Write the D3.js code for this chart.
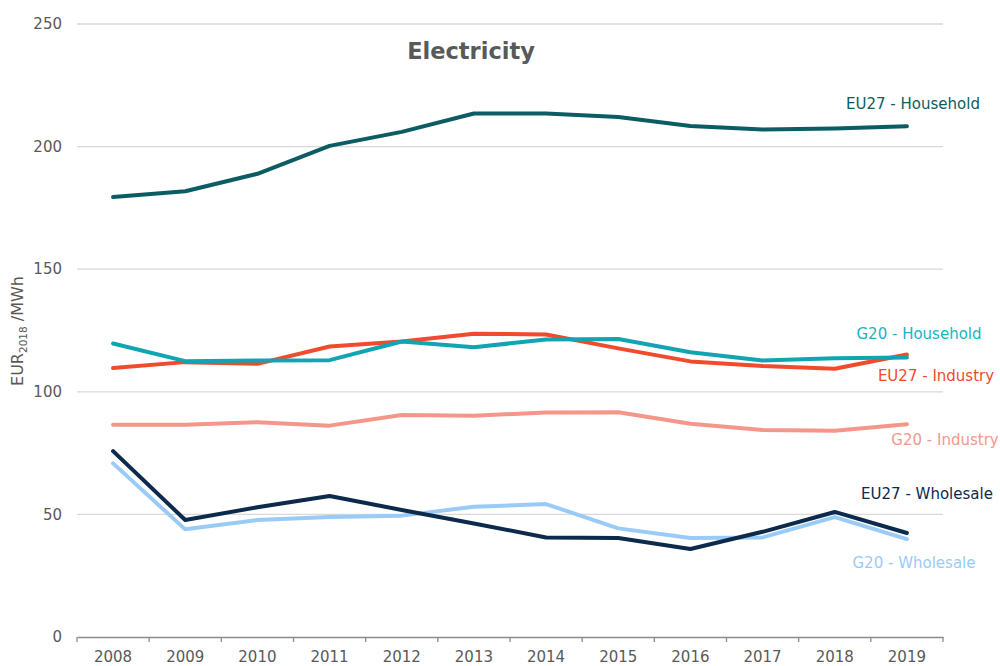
<!DOCTYPE html>
<html lang="en">
<head>
<meta charset="UTF-8">
<title>Electricity</title>
<script src="https://d3js.org/d3.v7.min.js"></script>
<style>
  body { margin: 0; background: #fff; font-family: "DejaVu Sans", Verdana, sans-serif; }
  svg { display: block; }
</style>
</head>
<body>
<svg id="chart" width="1000" height="666"></svg>
<script>
// data
const years = ["2008","2009","2010","2011","2012","2013","2014","2015","2016","2017","2018","2019"];
const yTicks = [0, 50, 100, 150, 200, 250];

const eu27Household = [179.4, 181.8, 188.9, 200.3, 206.0, 213.5, 213.5, 212.1, 208.4, 207.0, 207.4, 208.3];
const g20Household  = [119.7, 112.5, 112.8, 112.9, 120.5, 118.2, 121.3, 121.5, 116.1, 112.8, 113.7, 114.0];
const eu27Industry  = [109.7, 112.1, 111.4, 118.5, 120.5, 123.7, 123.4, 117.7, 112.4, 110.5, 109.4, 115.2];
const g20Industry   = [86.6, 86.6, 87.6, 86.2, 90.5, 90.2, 91.6, 91.7, 87.0, 84.4, 84.1, 86.8];
const eu27Wholesale = [75.8, 47.7, 52.9, 57.5, 51.8, 46.3, 40.6, 40.4, 35.9, 42.9, 51.0, 42.4];
const g20Wholesale  = [70.8, 43.9, 47.7, 48.9, 49.5, 53.1, 54.2, 44.3, 40.4, 40.6, 48.9, 39.9];

const series = [
  { name: "G20 - Wholesale",  values: g20Wholesale,  color: "#9acbf7", text: "#9acbf7", lx: 914, ly: 568 },
  { name: "EU27 - Wholesale", values: eu27Wholesale, color: "#0c2a4c", text: "#0c2a4c", lx: 927, ly: 499 },
  { name: "G20 - Industry",   values: g20Industry,   color: "#f4978a", text: "#f4978a", lx: 945, ly: 445 },
  { name: "EU27 - Industry",  values: eu27Industry,  color: "#ef4b2c", text: "#ef4b2c", lx: 936, ly: 381 },
  { name: "G20 - Household",  values: g20Household,  color: "#11a4b3", text: "#1ab3c3", lx: 919, ly: 339 },
  { name: "EU27 - Household", values: eu27Household, color: "#0b5c63", text: "#0b5c63", lx: 913, ly: 109 }
];

const svg = d3.select("#chart");
const plotLeft = 77, plotRight = 943, plotTop = 24, plotBottom = 637;

const x = d3.scaleBand().domain(years).range([plotLeft, plotRight]);
const y = d3.scaleLinear().domain([0, 250]).range([plotBottom, plotTop]);

// gridlines
svg.append("g")
  .selectAll("line")
  .data(yTicks.filter(d => d > 0))
  .enter().append("line")
  .attr("x1", plotLeft).attr("x2", plotRight)
  .attr("y1", d => y(d)).attr("y2", d => y(d))
  .attr("stroke", "#d9d9d9")
  .attr("stroke-width", 1.3);

// y tick labels
svg.append("g")
  .selectAll("text")
  .data(yTicks)
  .enter().append("text")
  .attr("x", 62)
  .attr("y", d => y(d))
  .attr("dy", "0.35em")
  .attr("text-anchor", "end")
  .attr("font-size", 15)
  .attr("fill", "#595959")
  .text(d => d);

// x axis
const xAxis = svg.append("g")
  .attr("transform", `translate(0,${plotBottom})`)
  .call(d3.axisBottom(x).tickSize(0).tickPadding(14));
xAxis.select(".domain").attr("stroke", "#8c8c8c").attr("stroke-width", 1.3);
xAxis.selectAll("text")
  .attr("font-size", 15)
  .attr("font-family", "DejaVu Sans, Verdana, sans-serif")
  .attr("fill", "#595959");

// ticks at the category boundaries
const bounds = years.map(d => x(d)).concat([plotRight]);
svg.append("g")
  .selectAll("line")
  .data(bounds)
  .enter().append("line")
  .attr("x1", d => d).attr("x2", d => d)
  .attr("y1", plotBottom).attr("y2", plotBottom + 5)
  .attr("stroke", "#8c8c8c")
  .attr("stroke-width", 1.3);

// lines
const line = d3.line()
  .x((d, i) => x(years[i]) + x.bandwidth() / 2)
  .y(d => y(d));

svg.append("g")
  .selectAll("path")
  .data(series)
  .enter().append("path")
  .attr("d", d => line(d.values))
  .attr("fill", "none")
  .attr("stroke", d => d.color)
  .attr("stroke-width", 4)
  .attr("stroke-linejoin", "round")
  .attr("stroke-linecap", "round");

// series labels
svg.append("g")
  .selectAll("text")
  .data(series)
  .enter().append("text")
  .attr("x", d => d.lx)
  .attr("y", d => d.ly)
  .attr("text-anchor", "middle")
  .attr("font-size", 15)
  .attr("fill", d => d.text)
  .text(d => d.name);

// title
svg.append("text")
  .attr("x", 471)
  .attr("y", 59)
  .attr("text-anchor", "middle")
  .attr("font-size", 22.5)
  .attr("font-weight", "bold")
  .attr("fill", "#595959")
  .text("Electricity");

// y axis title
const yt = svg.append("text")
  .attr("transform", "translate(23,331) rotate(-90)")
  .attr("text-anchor", "middle")
  .attr("font-size", 16)
  .attr("fill", "#595959");
yt.append("tspan").text("EUR");
yt.append("tspan").attr("font-size", 10.5).attr("dy", 4).text("2018");
yt.append("tspan").attr("dy", -4).text(" /MWh");
</script>
</body>
</html>
